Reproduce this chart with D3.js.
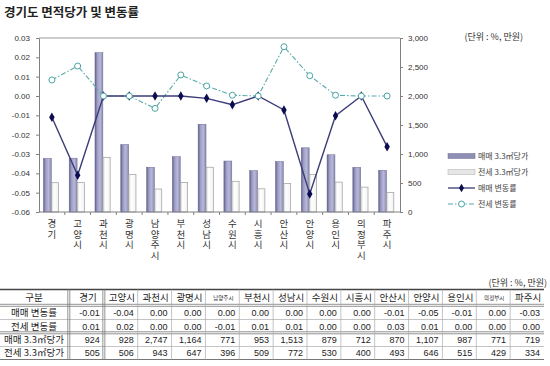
<!DOCTYPE html>
<html>
<head>
<meta charset="utf-8">
<script src="https://cdn.jsdelivr.net/npm/d3@7"></script>
<style>
  body { margin: 0; background: #fff; }
  svg { display: block; font-family: "Liberation Sans", Arial, sans-serif; }
  .kr { font-family: "Noto Sans CJK KR", "Noto Sans", sans-serif; }
</style>
</head>
<body>
<svg id="chart" width="550" height="366"></svg>
<script>
var cities = ["경기", "고양시", "과천시", "광명시", "남양주시", "부천시", "성남시",
  "수원시", "시흥시", "안산시", "안양시", "용인시", "의정부시", "파주시"];
var saleRate = [-0.011, -0.041, 0, 0, 0, 0, -0.0012, -0.0045, 0, -0.0072, -0.0507, -0.0102, 0, -0.0262];
var jeonseRate = [0.0083, 0.0155, 0, 0, -0.0064, 0.0109, 0.0052, 0.0004, 0, 0.0255, 0.0105, 0.0004, 0, 0];
var salePrice = [924, 928, 2747, 1164, 771, 953, 1513, 879, 712, 870, 1107, 987, 771, 719];
var jeonsePrice = [505, 506, 943, 647, 396, 509, 772, 530, 400, 493, 646, 515, 429, 334];
var rateTicks = [0.03, 0.02, 0.01, 0, -0.01, -0.02, -0.03, -0.04, -0.05, -0.06];
var priceTicks = [0, 500, 1000, 1500, 2000, 2500, 3000];
var legendLabels = ["매매 3.3㎡당가", "전세 3.3㎡당가", "매매 변동률", "전세 변동률"];
var rowLabels = ["매매 변동률", "전세 변동률", "매매 3.3㎡당가", "전세 3.3㎡당가"];

var svg = d3.select("#chart");
var pLeft = 39, pRight = 400, pTop = 38, pBottom = 212;

var fmtRate = function (v) {
  var s = (+v).toFixed(2);
  return s === "-0.00" ? "0.00" : s;
};
var fmtPrice = d3.format(",");

// gradients for bars
var defs = svg.append("defs");
var g1 = defs.append("linearGradient").attr("id", "saleGrad");
g1.append("stop").attr("offset", "0%").attr("stop-color", "#5f5f8c");
g1.append("stop").attr("offset", "30%").attr("stop-color", "#9e9ec6");
g1.append("stop").attr("offset", "65%").attr("stop-color", "#b8b8da");
g1.append("stop").attr("offset", "100%").attr("stop-color", "#8989b1");
var g2 = defs.append("linearGradient").attr("id", "jeonseGrad");
g2.append("stop").attr("offset", "0%").attr("stop-color", "#cfcfcf");
g2.append("stop").attr("offset", "35%").attr("stop-color", "#ffffff");
g2.append("stop").attr("offset", "100%").attr("stop-color", "#f2f2f2");

// title
svg.append("text").attr("class", "kr")
  .attr("x", 4).attr("y", 17)
  .style("font-size", "12.5px").style("font-weight", "bold").style("fill", "#222")
  .text("경기도 면적당가 및 변동률");

var x = d3.scaleBand().domain(cities).range([pLeft, pRight]).padding(0);
var xi = d3.scaleBand().domain(["sale", "jeonse"]).range([4.4, 20.2]);
var yL = d3.scaleLinear().domain([-0.06, 0.03]).range([pBottom, pTop]);
var yR = d3.scaleLinear().domain([0, 3000]).range([pBottom, pTop]);

// top border
svg.append("line").attr("x1", pLeft).attr("x2", pRight).attr("y1", pTop).attr("y2", pTop)
  .style("stroke", "#999").style("stroke-width", 1);

// bars
var rows = cities.map(function (c, i) {
  return { city: c, sale: salePrice[i], jeonse: jeonsePrice[i], sr: saleRate[i], jr: jeonseRate[i] };
});

svg.append("g").selectAll("rect").data(rows).join("rect")
  .attr("x", function (d) { return x(d.city) + xi("sale"); })
  .attr("y", function (d) { return yR(d.sale); })
  .attr("width", xi.bandwidth())
  .attr("height", function (d) { return pBottom - yR(d.sale); })
  .style("fill", "url(#saleGrad)").style("stroke", "#6a6a92").style("stroke-width", 0.5);

svg.append("g").selectAll("rect").data(rows).join("rect")
  .attr("x", function (d) { return x(d.city) + xi("jeonse"); })
  .attr("y", function (d) { return yR(d.jeonse); })
  .attr("width", xi.bandwidth() - 0.6)
  .attr("height", function (d) { return pBottom - yR(d.jeonse); })
  .style("fill", "url(#jeonseGrad)").style("stroke", "#9c9c9c").style("stroke-width", 0.7);

// axes
var axL = svg.append("g").attr("transform", "translate(" + pLeft + ",0)")
  .call(d3.axisLeft(yL).tickValues(rateTicks).tickSize(3).tickSizeOuter(0).tickPadding(6).tickFormat(fmtRate));
var axR = svg.append("g").attr("transform", "translate(" + pRight + ",0)")
  .call(d3.axisRight(yR).tickValues(priceTicks).tickSize(3).tickSizeOuter(0).tickPadding(5).tickFormat(fmtPrice));
[axL, axR].forEach(function (a) {
  a.select(".domain").style("stroke", "#808080");
  a.selectAll(".tick line").style("stroke", "#808080");
  a.selectAll("text").style("font-size", "8px").style("fill", "#333")
    .style("font-family", "'Liberation Sans', Arial, sans-serif");
});

// bottom axis
svg.append("line").attr("x1", pLeft).attr("x2", pRight).attr("y1", pBottom).attr("y2", pBottom)
  .style("stroke", "#808080");
svg.append("g").selectAll("line").data(cities.slice(1)).join("line")
  .attr("x1", function (c) { return x(c); }).attr("x2", function (c) { return x(c); })
  .attr("y1", pBottom).attr("y2", pBottom + 3)
  .style("stroke", "#808080");

// vertical x labels, one character per line
var xl = svg.append("g").attr("class", "kr").selectAll("text").data(cities).join("text")
  .style("font-size", "9.5px").style("fill", "#333").style("text-anchor", "middle");
xl.each(function (c) {
  var t = d3.select(this);
  var cx = x(c) + x.bandwidth() / 2;
  c.split("").forEach(function (ch, k) {
    t.append("tspan").attr("x", cx).attr("y", 227 + k * 10.5).text(ch);
  });
});

// lines
var cxOf = function (d) { return x(d.city) + x.bandwidth() / 2; };
svg.append("path").datum(rows)
  .attr("d", d3.line().x(cxOf).y(function (d) { return yL(d.jr); }))
  .style("fill", "none").style("stroke", "#5aa9a9").style("stroke-width", 1.1)
  .style("stroke-dasharray", "5,2,1.5,2");
svg.append("path").datum(rows)
  .attr("d", d3.line().x(cxOf).y(function (d) { return yL(d.sr); }))
  .style("fill", "none").style("stroke", "#3c3c78").style("stroke-width", 1.4);

svg.append("g").selectAll("path").data(rows).join("path")
  .attr("transform", function (d) { return "translate(" + cxOf(d) + "," + yL(d.sr) + ")"; })
  .attr("d", d3.symbol(d3.symbolDiamond, 26))
  .style("fill", "#0c0c50");
svg.append("g").selectAll("circle").data(rows).join("circle")
  .attr("cx", cxOf).attr("cy", function (d) { return yL(d.jr); })
  .attr("r", 3)
  .style("fill", "#fff").style("stroke", "#4aa3a3").style("stroke-width", 1);

// unit label (chart)
svg.append("text").attr("class", "kr").attr("x", 523).attr("y", 40)
  .style("font-size", "9px").style("fill", "#333").style("text-anchor", "end")
  .text("(단위 : %, 만원)");

// legend
var lg = svg.append("g").attr("transform", "translate(448,0)");
var ly = [156, 172, 188, 204];
lg.append("rect").attr("x", 0).attr("y", ly[0] - 2.5).attr("width", 27).attr("height", 5)
  .style("fill", "#8f8fb5").style("stroke", "#6a6a92").style("stroke-width", 0.5);
lg.append("rect").attr("x", 0).attr("y", ly[1] - 2.5).attr("width", 27).attr("height", 5)
  .style("fill", "#e6e6e6").style("stroke", "#aaa").style("stroke-width", 0.5);
lg.append("line").attr("x1", 0).attr("x2", 27).attr("y1", ly[2]).attr("y2", ly[2])
  .style("stroke", "#3c3c78").style("stroke-width", 1.3);
lg.append("path").attr("transform", "translate(13.5," + ly[2] + ")")
  .attr("d", d3.symbol(d3.symbolDiamond, 22)).style("fill", "#0c0c50");
lg.append("line").attr("x1", 0).attr("x2", 27).attr("y1", ly[3]).attr("y2", ly[3])
  .style("stroke", "#5aa9a9").style("stroke-width", 1.1).style("stroke-dasharray", "5,2,1.5,2");
lg.append("circle").attr("cx", 13.5).attr("cy", ly[3]).attr("r", 3)
  .style("fill", "#fff").style("stroke", "#4aa3a3");
lg.selectAll("text.lt").data(legendLabels).join("text").attr("class", "lt kr")
  .attr("x", 30).attr("y", function (d, i) { return ly[i] + 3; })
  .style("font-size", "8px").style("fill", "#444")
  .text(function (d) { return d; });

// table
var tb = svg.append("g").attr("class", "kr");
var cxT = d3.scaleBand().domain(cities).range([70, 544]).padding(0);

tb.append("text").attr("x", 547).attr("y", 285.5)
  .style("font-size", "9px").style("fill", "#333").style("text-anchor", "end")
  .text("(단위 : %, 만원)");

var hl = function (y, w, c) {
  tb.append("line").attr("x1", 0).attr("x2", 544).attr("y1", y).attr("y2", y)
    .style("stroke", c).style("stroke-width", w);
};
hl(289.5, 1.6, "#444");
hl(304.3, 0.8, "#777"); hl(306.3, 0.8, "#777");
hl(319.5, 0.7, "#aaa");
hl(331.8, 0.8, "#777"); hl(333.8, 0.8, "#777");
hl(346.5, 0.7, "#aaa");
hl(359.5, 1, "#777");

var vl = function (xv, w, c) {
  tb.append("line").attr("x1", xv).attr("x2", xv).attr("y1", 289.5).attr("y2", 359.5)
    .style("stroke", c).style("stroke-width", w);
};
vl(67.8, 0.8, "#777"); vl(69.8, 0.8, "#777");
cities.slice(1).forEach(function (c, i) {
  if (i === 0) { vl(cxT(c) - 1, 0.8, "#777"); vl(cxT(c) + 1, 0.8, "#777"); }
  else vl(cxT(c), 0.7, "#aaa");
});

tb.append("text").attr("x", 34).attr("y", 301)
  .style("font-size", "9.5px").style("fill", "#222").style("text-anchor", "middle").text("구분");
tb.selectAll("text.hd").data(cities).join("text").attr("class", "hd")
  .attr("x", function (c) { return cxT(c) + cxT.bandwidth() / 2 + 1; })
  .attr("y", function (c) { return c.length > 3 ? 299.5 : 301; })
  .style("font-size", function (c) { return c.length > 3 ? "5.5px" : "9.5px"; })
  .style("fill", "#222").style("text-anchor", "middle")
  .text(function (c) { return c; });

var tableRows = [saleRate.map(fmtRate), jeonseRate.map(fmtRate),
  salePrice.map(fmtPrice), jeonsePrice.map(fmtPrice)];
var baseY = [315.5, 329.5, 343, 356.3];
tableRows.forEach(function (vals, r) {
  tb.append("text").attr("x", 34).attr("y", baseY[r])
    .style("font-size", "9.5px").style("fill", "#222").style("text-anchor", "middle")
    .text(rowLabels[r]);
  tb.selectAll("text.v" + r).data(vals).join("text").attr("class", "v" + r)
    .attr("x", function (v, i) { return cxT(cities[i]) + cxT.bandwidth() - 4; })
    .attr("y", baseY[r])
    .style("font-size", "9px").style("fill", "#222").style("text-anchor", "end")
    .style("font-family", "'Liberation Sans', Arial, sans-serif")
    .text(function (v) { return v; });
});
</script>
</body>
</html>
